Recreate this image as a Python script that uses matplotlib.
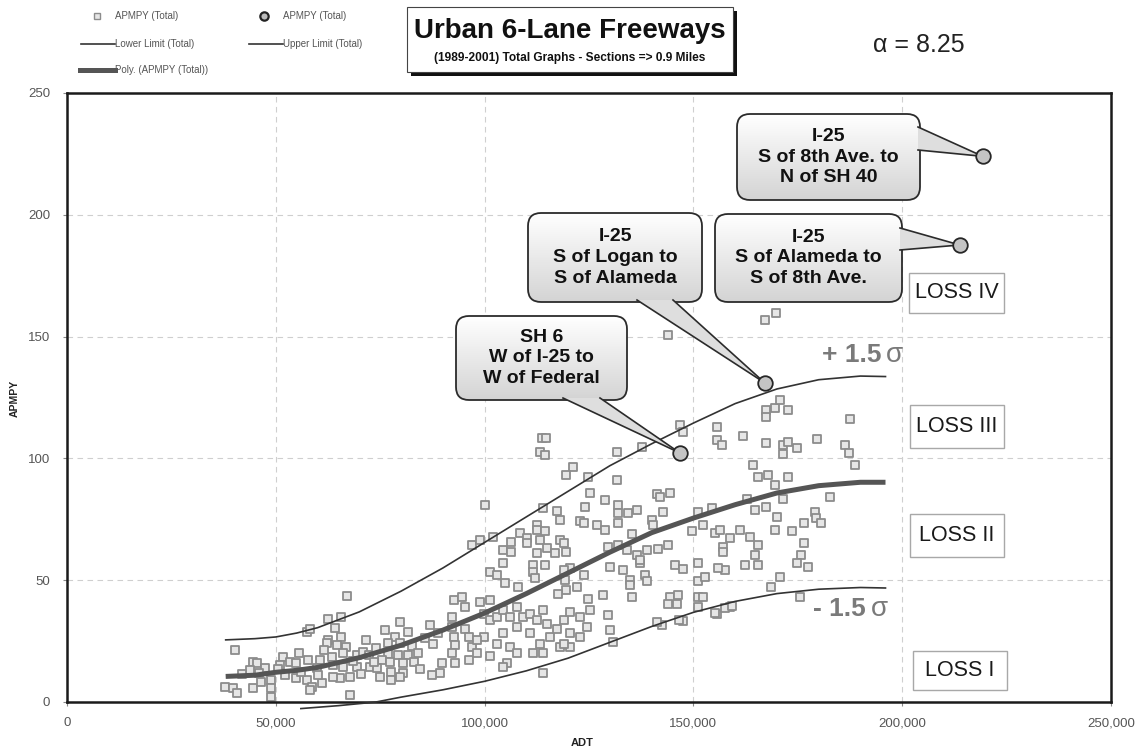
import numpy as np
import matplotlib.pyplot as plt
from matplotlib.patches import FancyBboxPatch, Rectangle, Polygon
from matplotlib.lines import Line2D
from matplotlib.colors import LinearSegmentedColormap
from matplotlib.ticker import FuncFormatter

plt.rcParams['font.family'] = ['Liberation Sans', 'DejaVu Sans']

# section data: ADT (thousands) and accidents per mile per year
adt_k = [
    67.0, 62.6, 65.5, 57.4, 58.2, 64.2, 40.2, 62.6, 65.5, 62.3, 64.6, 66.7, 44.6, 45.4, 51.8, 53.4,
    43.8, 47.4, 51.0, 54.9, 57.8, 60.6, 59.8, 63.4, 66.2, 69.4, 71.0, 69.4, 66.2, 63.8, 72.6, 76.1,
    79.7, 78.5, 81.6, 76.9, 79.7, 76.9, 79.2, 81.6, 75.4, 77.3, 80.4, 83.0, 77.7, 80.4, 77.7, 79.7,
    37.8, 39.8, 40.7, 44.6, 46.5, 48.9, 48.9, 48.9, 52.2, 54.9, 57.4, 58.6, 61.0, 65.4, 67.7, 67.7,
    58.2, 63.8, 72.2, 74.2, 75.0, 42.0, 46.0, 50.5, 56.0, 60.0, 70.5, 73.5, 68.5, 55.5, 61.5, 71.5,
    74.0, 82.5, 84.0, 84.5,
    113.7, 114.7, 113.2, 114.4, 131.6, 137.6, 121.2, 119.6, 124.8, 131.6, 125.3, 128.8, 124.0, 114.1,
    117.3, 132.0, 132.0, 134.4, 136.4, 118.1, 122.9, 123.7, 126.9, 128.8, 132.0, 135.2, 112.5, 112.5,
    114.4, 118.1, 108.5, 110.1, 106.4, 110.1, 113.3, 114.9, 118.9, 119.6, 104.5, 106.4, 112.5, 116.9,
    96.9, 98.9, 102.0, 129.6, 132.0, 134.0, 136.4, 137.2, 134.8, 134.8, 135.2, 130.0, 133.2, 123.7,
    120.4, 118.9, 111.7, 114.4, 111.7, 112.1, 104.5, 101.3, 102.9, 104.9, 108.1, 119.3, 119.6, 122.1,
    117.6, 124.8, 128.4, 129.6, 130.0, 130.8, 100.1,
    86.9, 88.9, 85.7, 87.7, 92.2, 92.6, 94.6, 95.4, 92.2, 95.4, 92.6, 96.2, 93.0, 97.0, 92.2, 93.0,
    96.2, 89.8, 89.4, 87.4, 99.0, 99.8, 101.3, 101.3, 102.9, 104.5, 106.1, 107.7, 109.3, 107.7, 104.5,
    102.9, 106.1, 107.7, 105.3, 104.5, 101.3, 99.8, 98.2, 98.2, 110.9, 112.5, 110.9, 114.1, 114.9,
    113.3, 115.7, 117.3, 118.9, 120.4, 120.4, 118.1, 114.1, 111.7, 114.1, 120.4, 122.9, 124.5, 125.3,
    122.9, 118.9,
    144.0, 146.8, 147.6, 155.6, 155.6, 156.8, 161.9, 167.5, 169.5, 170.7, 172.7, 167.5, 167.5, 171.5,
    172.7, 174.7, 171.5, 179.7, 186.4, 187.2, 187.4, 188.7, 164.3, 165.5, 167.9, 169.5, 172.7, 182.8,
    171.5, 141.2, 144.4, 142.0, 142.8, 140.0, 140.4, 151.2, 154.4, 162.9, 164.7, 167.5, 169.9, 179.0,
    179.3, 180.5, 176.6, 173.5, 169.5, 149.6, 152.4, 155.2, 156.4, 158.8, 161.2, 163.5, 165.5, 157.2,
    157.2, 164.7, 141.6, 144.0, 138.8, 176.6, 175.8, 174.7, 177.5, 165.5, 162.3, 157.6, 156.0, 151.2,
    145.6, 147.6, 137.2, 138.4, 138.8, 151.2, 152.7, 170.7, 168.7, 144.4, 146.4, 144.0, 146.0, 151.2,
    152.4, 151.2, 147.6, 142.4, 155.6, 158.8, 175.5,
    167.1, 169.8, 141.2, 146.6, 155.2, 157.6, 159.2,
]
apmpy = [
    43.5, 33.9, 34.9, 28.9, 29.8, 30.2, 21.3, 25.3, 26.8, 24.1, 23.4, 22.7, 16.6, 15.9, 18.6, 16.6,
    13.1, 13.8, 15.2, 15.9, 17.3, 17.3, 13.8, 18.6, 20.0, 19.3, 20.7, 14.5, 14.5, 15.2, 14.5, 29.6,
    32.9, 26.8, 28.9, 24.1, 24.1, 19.9, 19.3, 19.3, 17.3, 16.6, 15.9, 16.6, 12.4, 11.7, 9.0, 10.4,
    6.3, 5.6, 3.6, 5.6, 8.3, 9.0, 5.6, 2.2, 11.0, 9.7, 9.0, 6.3, 7.7, 9.7, 10.4, 3.0,
    4.9, 10.4, 19.3, 13.8, 10.4, 11.5, 12.0, 13.5, 12.5, 11.0, 11.5, 16.5, 16.8, 20.0, 21.5, 25.5,
    22.0, 23.0, 20.0, 13.5,
    108.2, 108.2, 102.7, 101.4, 102.7, 104.8, 96.6, 93.2, 92.2, 91.1, 85.6, 82.9, 80.2, 79.5,
    78.6, 80.8, 77.4, 77.7, 79.0, 74.8, 74.1, 73.4, 72.7, 70.6, 73.4, 69.0, 72.7, 70.6,
    70.0, 66.5, 69.2, 67.2, 65.8, 65.2, 66.5, 63.1, 65.2, 61.7, 62.4, 61.7, 61.0, 61.0,
    64.5, 66.5, 67.9, 63.8, 64.5, 62.4, 60.3, 56.9, 50.0, 48.0, 43.2, 55.5, 54.2, 52.0,
    54.9, 54.2, 56.2, 56.2, 53.4, 50.7, 56.9, 53.4, 52.0, 48.7, 47.3, 50.0, 45.9, 47.3,
    44.5, 42.4, 43.8, 35.6, 29.5, 24.7, 80.8,
    31.6, 28.2, 26.1, 24.0, 34.9, 41.7, 43.1, 38.9, 30.8, 30.1, 26.8, 26.8, 23.4, 22.7, 20.0, 15.9,
    17.3, 15.9, 11.8, 11.1, 41.0, 36.2, 41.7, 33.5, 34.9, 37.6, 34.9, 39.0, 34.9, 30.8, 28.2,
    24.0, 22.7, 20.0, 15.9, 14.5, 18.7, 26.8, 20.0, 25.4, 36.2, 33.5, 28.2, 37.6, 32.1,
    24.0, 26.8, 30.1, 33.5, 28.2, 22.7, 22.7, 20.0, 20.0, 11.8, 36.9, 34.9, 30.8, 37.6,
    26.8, 24.0,
    150.7, 113.8, 111.0, 113.0, 107.6, 105.5, 109.2, 119.8, 120.5, 124.0, 119.8, 117.0, 106.2, 105.5,
    106.9, 104.1, 102.0, 107.8, 105.5, 102.3, 116.3, 97.3, 97.3, 92.5, 93.2, 89.1, 92.5, 84.2,
    83.4, 85.4, 85.7, 84.0, 78.2, 74.8, 72.7, 78.2, 79.5, 83.4, 78.8, 80.2, 76.1, 78.2,
    75.4, 73.4, 73.4, 70.0, 70.6, 70.0, 72.7, 69.2, 70.6, 67.2, 70.6, 67.9, 64.5, 63.8,
    61.7, 60.3, 63.0, 64.5, 62.4, 65.2, 60.3, 57.0, 55.6, 56.2, 56.2, 54.2, 54.9, 57.0,
    56.2, 54.4, 58.2, 52.2, 49.5, 49.8, 51.5, 51.2, 47.3, 43.2, 43.9, 40.4, 40.4, 43.2,
    43.2, 39.0, 33.1, 31.7, 36.2, 39.0, 43.2,
    156.8, 159.5, 33.0, 33.6, 36.7, 38.4, 39.3,
]

# highlighted sections
hi_adt_k = [146.8, 167.1, 213.8, 219.3]
hi_apmpy = [102.2, 131.0, 187.6, 224.0]
hi_names = [
    "SH 6\nW of I-25 to\nW of Federal",
    "I-25\nS of Logan to\nS of Alameda",
    "I-25\nS of Alameda to\nS of 8th Ave.",
    "I-25\nS of 8th Ave. to\nN of SH 40",
]

# polynomial trend and +/- 1.5 sigma limits
trend_adt_k = [38, 45, 50, 55, 60, 70, 80, 90, 100, 110, 120, 130, 140, 150, 160, 170, 180, 190, 196]
trend_apmpy = [10.5, 11.0, 12.2, 13.0, 14.2, 18.2, 23.3, 29.5, 36.5, 44.5, 53.0, 61.5, 69.5, 75.5,
               81.0, 85.8, 88.8, 90.2, 90.2]
upper_adt_k = [38, 45, 50, 55, 60, 70, 80, 90, 100, 110, 120, 130, 140, 150, 160, 170, 180, 190, 196]
upper_apmpy = [25.5, 26.0, 26.7, 28.3, 30.5, 37.0, 45.5, 55.0, 65.5, 76.0, 86.5, 97.0, 106.0, 114.5,
               122.5, 128.5, 132.3, 133.8, 133.6]
lower_adt_k = [56, 65, 74, 80, 90, 100, 110, 120, 130, 140, 150, 160, 170, 180, 190, 196]
lower_apmpy = [-2.7, -1.5, 0.0, 2.0, 5.0, 8.5, 12.8, 18.0, 24.5, 31.0, 36.8, 41.3, 44.5, 46.3, 47.0, 46.8]

loss_labels = ["LOSS IV", "LOSS III", "LOSS II", "LOSS I"]

W, H = 1138, 750
fig = plt.figure(figsize=(W / 100, H / 100), dpi=100)
ax = fig.add_axes([67 / W, 48 / H, 1044 / W, 609 / H])
ax.set_xlim(0, 250000)
ax.set_ylim(0, 250)


def pix(xp, yp):
    # figure pixel (from top-left) -> data coordinates
    return ax.transData.inverted().transform((xp, H - yp))


def fx(xp):
    return xp / W


def fy(yp):
    return 1 - yp / H


ax.set_xticks(np.arange(0, 250001, 50000))
ax.set_yticks(np.arange(0, 251, 50))
ax.xaxis.set_major_formatter(FuncFormatter(lambda v, p: f"{int(v):,}"))
ax.tick_params(direction='out', length=3, width=0.8, color='#888888', labelsize=9.5,
               labelcolor='#555555')
ax.tick_params(axis='y', pad=9)
ax.tick_params(axis='x', pad=8)
ax.grid(True, ls=(0, (5, 4)), color='#cfcfcf', lw=0.8)
ax.set_axisbelow(True)
for sp in ax.spines.values():
    sp.set_linewidth(1.8)
    sp.set_color('#1a1a1a')

adt = np.array(adt_k) * 1000
ax.scatter(adt, apmpy, marker='s', s=34, facecolor='#e6e6e6', edgecolor='#8c8c8c',
           linewidths=1.3, zorder=2)
ax.plot(np.array(upper_adt_k) * 1000, upper_apmpy, color='#333333', lw=1.2, zorder=3)
ax.plot(np.array(lower_adt_k) * 1000, lower_apmpy, color='#333333', lw=1.2, zorder=3, clip_on=False)
ax.plot(np.array(trend_adt_k) * 1000, trend_apmpy, color='#555555', lw=3.6, zorder=3.5,
        solid_capstyle='butt')

# callout boxes
grad = LinearSegmentedColormap.from_list('callout', ['#ffffff', '#d4d4d4'])
x_unit = pix(1, 0)[0] - pix(0, 0)[0]
y_unit = pix(0, 0)[1] - pix(0, 1)[1]
radius = 13


def callout(box, base, tip, label):
    x0, y0, x1, y1 = box
    lx, by = pix(x0, y1)
    rx, ty = pix(x1, y0)
    patch = FancyBboxPatch((lx, by), rx - lx, ty - by,
                           boxstyle=f"round,pad=0,rounding_size={radius * x_unit}",
                           mutation_aspect=y_unit / x_unit,
                           fc='none', ec='#2b2b2b', lw=1.3, zorder=6)
    ax.add_patch(patch)
    im = ax.imshow(np.linspace(0, 1, 64)[:, None], cmap=grad, extent=(lx, rx, by, ty),
                   origin='upper', aspect='auto', zorder=5, interpolation='bicubic')
    im.set_clip_path(patch)
    b1 = pix(*base[0])
    b2 = pix(*base[1])
    ax.add_patch(Polygon([b1, b2, tip], closed=True, fc='#dedede', ec='none', zorder=7))
    for b in (b1, b2):
        ax.plot([b[0], tip[0]], [b[1], tip[1]], color='#2b2b2b', lw=1.2, zorder=7)
    cx, cy = pix((x0 + x1) / 2, (y0 + y1) / 2)
    ax.text(cx, cy, label, ha='center', va='center', fontsize=14, fontweight='bold',
            color='#111111', linespacing=1.27, zorder=8)


boxes = [(456, 316, 627, 400), (528, 213, 702, 302), (715, 214, 902, 302), (737, 114, 920, 200)]
bases = [((563, 398), (600, 398)), ((637, 300), (673, 300)),
         ((900, 228), (900, 250)), ((918, 127), (918, 150))]
for i in range(4):
    callout(boxes[i], bases[i], (hi_adt_k[i] * 1000, hi_apmpy[i]), hi_names[i])

ax.scatter(np.array(hi_adt_k) * 1000, hi_apmpy, marker='o', s=110, facecolor='#c4c4c4',
           edgecolor='#262626', linewidths=1.3, zorder=9, clip_on=False)

# LOSS zones
loss_boxes = [(909, 273, 1004, 313), (910, 405, 1004, 448), (910, 514, 1004, 557), (913, 651, 1007, 690)]
for lab, (x0, y0, x1, y1) in zip(loss_labels, loss_boxes):
    lx, by = pix(x0, y1)
    rx, ty = pix(x1, y0)
    ax.add_patch(Rectangle((lx, by), rx - lx, ty - by, fc='white', ec='#a8a8a8', lw=1.0, zorder=6))
    cx, cy = pix((x0 + x1) / 2, (y0 + y1) / 2)
    ax.text(cx, cy, lab, ha='center', va='center', fontsize=15.5, color='#1a1a1a', zorder=7)

# sigma band labels: bold number, plain sigma
for num, (xp, yp) in [("+ 1.5", (881, 355)), ("- 1.5", (866, 609))]:
    tx, ty = pix(xp, yp)
    ax.text(tx, ty, num, ha='right', va='center', fontsize=19, fontweight='bold',
            color='#7a7a7a', zorder=6)
    sx, sy = pix(xp + 5, yp)
    ax.text(sx, sy, "σ", ha='left', va='center', fontsize=20, color='#7a7a7a', zorder=6)

# axis titles
fig.text(fx(15), fy(398), "APMPY", rotation=90, ha='center', va='center', fontsize=7.5,
         fontweight='bold', color='#222222')
fig.text(fx(582), fy(743), "ADT", ha='center', va='center', fontsize=8, fontweight='bold',
         color='#222222')

# header legend
fig.add_artist(Line2D([fx(97)], [fy(16)], marker='s', ms=5, mfc='#e6e6e6', mec='#8c8c8c', mew=1,
                      transform=fig.transFigure))
fig.add_artist(Line2D([fx(264)], [fy(16)], marker='o', ms=6, mfc='#bbbbbb', mec='#222222', mew=1.6,
                      transform=fig.transFigure))
fig.add_artist(Line2D([fx(81), fx(115)], [fy(44), fy(44)], color='#333333', lw=1.2,
                      transform=fig.transFigure))
fig.add_artist(Line2D([fx(249), fx(283)], [fy(44), fy(44)], color='#333333', lw=1.2,
                      transform=fig.transFigure))
fig.add_artist(Line2D([fx(80), fx(115)], [fy(70), fy(70)], color='#555555', lw=3.6,
                      transform=fig.transFigure))
for txt, xp, yp in [("APMPY (Total)", 115, 16), ("APMPY (Total)", 283, 16),
                    ("Lower Limit (Total)", 115, 44), ("Upper Limit (Total)", 283, 44),
                    ("Poly. (APMPY (Total))", 115, 70)]:
    fig.text(fx(xp), fy(yp), txt, ha='left', va='center', fontsize=7, color='#555555')

# title block with drop shadow
fig.add_artist(Rectangle((fx(411), fy(76)), (733 - 407) / W, (72 - 7) / H, fc='#111111', ec='none',
                         transform=fig.transFigure))
fig.add_artist(Rectangle((fx(407), fy(72)), (733 - 407) / W, (72 - 7) / H, fc='white', ec='#444444',
                         lw=0.8, transform=fig.transFigure))
fig.text(fx(570), fy(31), "Urban 6-Lane Freeways", ha='center', va='center', fontsize=20,
         fontweight='bold', color='#111111')
fig.text(fx(570), fy(58), "(1989-2001) Total Graphs - Sections => 0.9 Miles", ha='center',
         va='center', fontsize=8.6, fontweight='bold', color='#111111')

fig.text(fx(919), fy(45), "α = 8.25", ha='center', va='center', fontsize=18, color='#222222')

fig.savefig("out.png", dpi=100)
